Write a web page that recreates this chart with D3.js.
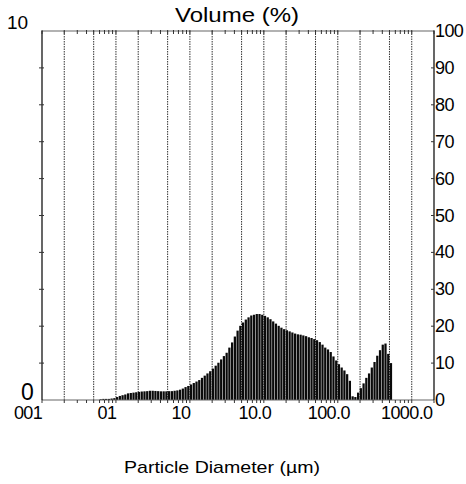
<!DOCTYPE html>
<html>
<head>
<meta charset="utf-8">
<script src="https://cdn.jsdelivr.net/npm/d3@7"></script>
<style>
  body { margin: 0; background: #fff; }
  text { font-family: "Liberation Sans", Arial, sans-serif; fill: #000; }
</style>
</head>
<body>
<svg id="chart" width="466" height="484"></svg>
<script>
// channel sizes: first channel lower edge and channels per decade
var sizeStart = 0.06
var binsPerDecade = 27

// volume (%) per channel
var volume = [
  0.02, 0.03, 0.03, 0.03, 0.04, 0.05, 0.08, 0.11, 0.13, 0.15,
  0.18, 0.19, 0.20, 0.21, 0.22, 0.23, 0.235, 0.24, 0.25, 0.25,
  0.245, 0.24, 0.235, 0.235, 0.235, 0.24, 0.24, 0.25, 0.26, 0.28,
  0.31, 0.35, 0.38, 0.42, 0.46, 0.50, 0.54, 0.60, 0.66, 0.72,
  0.78, 0.85, 0.93, 1.01, 1.10, 1.19, 1.28, 1.42, 1.56, 1.72,
  1.88, 2.01, 2.10, 2.18, 2.24, 2.29, 2.31, 2.33, 2.33, 2.31,
  2.28, 2.24, 2.19, 2.13, 2.07, 2.01, 1.96, 1.92, 1.89, 1.86,
  1.83, 1.80, 1.78, 1.77, 1.75, 1.73, 1.70, 1.68, 1.65, 1.62,
  1.57, 1.50, 1.42, 1.37, 1.30, 1.18, 1.07, 0.97, 0.88, 0.80,
  0.70, 0.52, 0.10, 0.08, 0.20, 0.32, 0.45, 0.60, 0.72, 0.88,
  1.03, 1.20, 1.35, 1.50, 1.53, 1.25, 1.00
]

var xDomain = [0.01, 2000]
var leftTicks = [0, 1, 2, 3, 4, 5, 6, 7, 8, 9, 10]
var rightTicks = [0, 10, 20, 30, 40, 50, 60, 70, 80, 90, 100]
var decades = [0.01, 0.1, 1, 10, 100, 1000]
var decadeLabels = ["001", "01", "10", "10.0", "100.0", "1000.0"]
var gridMultipliers = [1, 2, 5]

function draw() {
  var svg = d3.select("#chart")
  var pL = 42, pR = 434, pT = 31, pB = 400

  var x = d3.scaleLog().domain(xDomain).range([pL, pR])
  var y = d3.scaleLinear().domain([0, 10]).range([pB, pT])
  var yR = d3.scaleLinear().domain([0, 100]).range([pB, pT])

  // all 1..9 x 10^n positions inside the domain
  var minorTicks = []
  decades.forEach(function(d) {
    for (var k = 1; k <= 9; k++) {
      var v = d * k
      if (v >= xDomain[0] && v <= xDomain[1]) minorTicks.push(v)
    }
  })
  var gridVals = []
  decades.forEach(function(d) {
    gridMultipliers.forEach(function(m) {
      var v = d * m
      if (v > xDomain[0] && v < xDomain[1]) gridVals.push(v)
    })
  })

  // dotted grid
  svg.append("g").selectAll("line").data(gridVals).enter().append("line")
    .attr("x1", function(d) { return x(d) }).attr("x2", function(d) { return x(d) })
    .attr("y1", pT).attr("y2", pB)
    .attr("stroke", "#333").attr("stroke-width", 1)
    .attr("stroke-dasharray", "1.5,1")

  // bars
  var bars = volume.map(function(v, i) {
    return {
      x0: sizeStart * Math.pow(10, i / binsPerDecade),
      x1: sizeStart * Math.pow(10, (i + 1) / binsPerDecade),
      v: v
    }
  })
  svg.append("g").selectAll("rect").data(bars).enter().append("rect")
    .attr("x", function(d) { return x(d.x0) })
    .attr("width", function(d) { return x(d.x1) - x(d.x0) - 0.5 })
    .attr("y", function(d) { return y(d.v) })
    .attr("height", function(d) { return y(0) - y(d.v) })
    .attr("fill", "#0a0a0a")

  // frame
  svg.append("line").attr("x1", pL).attr("x2", pR).attr("y1", pT).attr("y2", pT)
    .attr("stroke", "#666").attr("stroke-width", 1.2)
  svg.append("line").attr("x1", pL).attr("x2", pR).attr("y1", pB).attr("y2", pB)
    .attr("stroke", "#666").attr("stroke-width", 1.2)
  svg.append("line").attr("x1", pL).attr("x2", pL).attr("y1", pT).attr("y2", pB)
    .attr("stroke", "#000").attr("stroke-width", 1.2)
  svg.append("line").attr("x1", pR).attr("x2", pR).attr("y1", pT).attr("y2", pB)
    .attr("stroke", "#000").attr("stroke-width", 1.2)

  // x ticks, bottom (outward) and top (inward)
  svg.append("g").selectAll("line").data(minorTicks).enter().append("line")
    .attr("x1", function(d) { return x(d) }).attr("x2", function(d) { return x(d) })
    .attr("y1", pB).attr("y2", pB + 3)
    .attr("stroke", "#333").attr("stroke-width", 1)
  svg.append("g").selectAll("line").data(minorTicks).enter().append("line")
    .attr("x1", function(d) { return x(d) }).attr("x2", function(d) { return x(d) })
    .attr("y1", pT - 1).attr("y2", pT + 3)
    .attr("stroke", "#333").attr("stroke-width", 1)

  // left ticks
  svg.append("g").selectAll("line").data(leftTicks.slice(1, -1)).enter().append("line")
    .attr("x1", pL - 3).attr("x2", pL + 2)
    .attr("y1", function(d) { return y(d) }).attr("y2", function(d) { return y(d) })
    .attr("stroke", "#333").attr("stroke-width", 1)
  // right ticks
  svg.append("g").selectAll("line").data(rightTicks.slice(1, -1)).enter().append("line")
    .attr("x1", pR - 3).attr("x2", pR)
    .attr("y1", function(d) { return yR(d) }).attr("y2", function(d) { return yR(d) })
    .attr("stroke", "#333").attr("stroke-width", 1)

  // right labels
  svg.append("g").selectAll("text").data(rightTicks).enter().append("text")
    .attr("x", pR + 1)
    .attr("y", function(d) { return yR(d) + 6 })
    .attr("font-size", 18)
    .attr("letter-spacing", -0.6)
    .text(function(d) { return d })

  // left end labels
  svg.append("text").attr("x", 7).attr("y", 29).attr("font-size", 19).text(leftTicks[leftTicks.length - 1])
  svg.append("text").attr("x", 21).attr("y", 400).attr("font-size", 23).text(leftTicks[0])

  // x labels (the original sits them a little left of each decade)
  svg.append("g").selectAll("text").data(decades).enter().append("text")
    .attr("x", function(d, i) { return x(d) - (i === 0 ? 14 : i === decades.length - 1 ? 5 : 9) })
    .attr("y", 419)
    .attr("font-size", 18)
    .attr("letter-spacing", -0.6)
    .attr("text-anchor", "middle")
    .text(function(d, i) { return decadeLabels[i] })

  // titles
  svg.append("text").attr("x", 237).attr("y", 22).attr("font-size", 20)
    .attr("text-anchor", "middle")
    .attr("textLength", 124).attr("lengthAdjust", "spacingAndGlyphs")
    .text("Volume (%)")
  svg.append("text").attr("x", 222).attr("y", 473).attr("font-size", 17)
    .attr("text-anchor", "middle")
    .attr("textLength", 196).attr("lengthAdjust", "spacingAndGlyphs")
    .text("Particle Diameter (µm)")
}
draw()
</script>
</body>
</html>
